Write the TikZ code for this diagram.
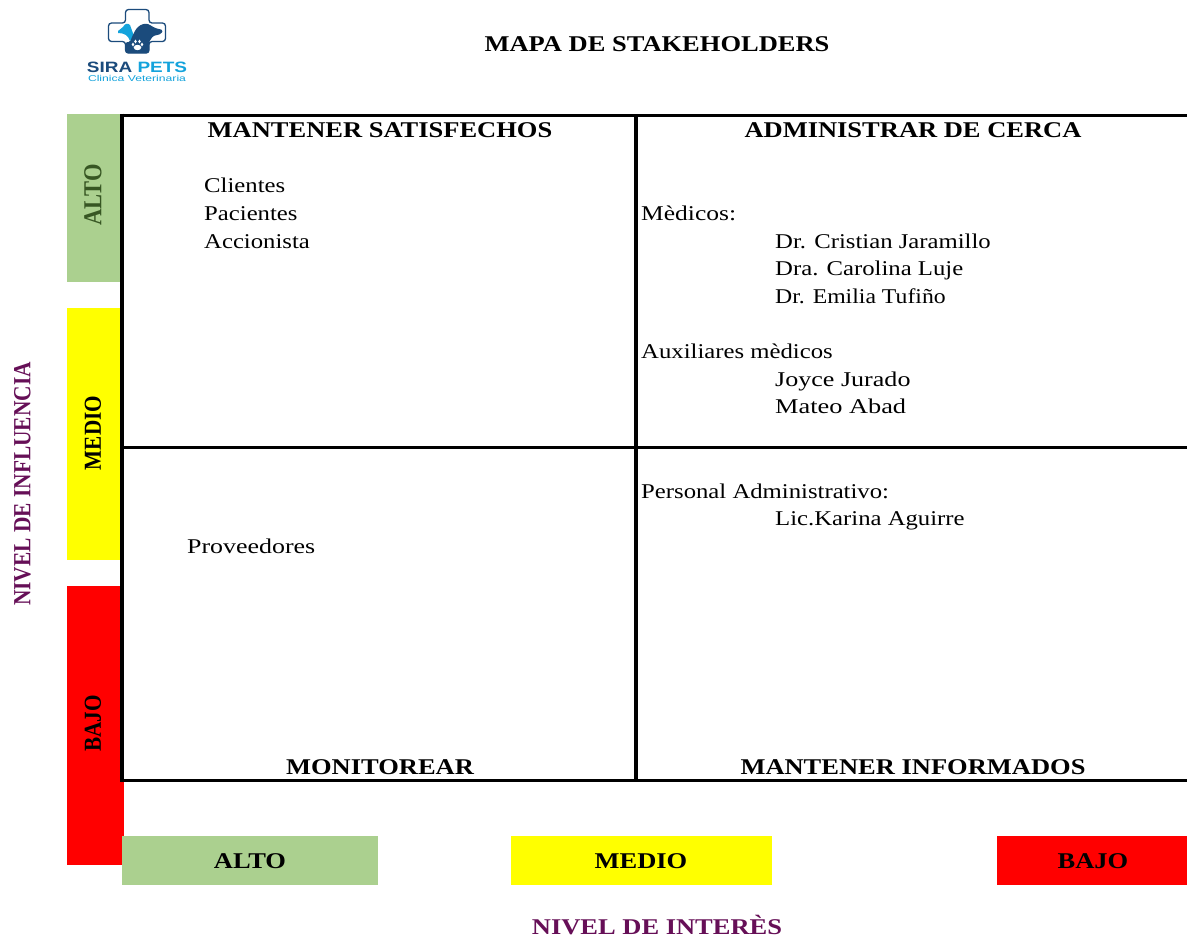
\documentclass[tikz,border=0pt]{standalone}
\usepackage{fontspec}
\setmainfont{Liberation Serif}
\setsansfont{Liberation Sans}
\usetikzlibrary{positioning}
\definecolor{verde}{HTML}{ABD08F}
\definecolor{verdeosc}{HTML}{375623}
\definecolor{morado}{HTML}{660F57}
\definecolor{azulosc}{HTML}{1B4B7C}
\definecolor{azulcla}{HTML}{14A3DC}
\definecolor{amarillo}{HTML}{FFFF00}
\definecolor{rojo}{HTML}{FF0000}
\newcommand{\ancho}[2][1.177]{\scalebox{#1}[1]{#2}}
\newcommand{\grueso}[1]{\scalebox{1}[1.15]{#1}}
\tikzset{
    titulo/.style={font=\fontsize{22.5}{25}\selectfont\bfseries, inner sep=0pt},
    nombre/.style={font=\fontsize{21}{24}\selectfont, inner sep=0pt, anchor=base west},
    lineah/.style={line width=3pt, black},
    lineav/.style={line width=3.8pt, black},
    rotulo/.style={font=\fontsize{21.2}{24}\selectfont\bfseries, inner sep=0pt, rotate=90},
    barra/.style={minimum height=49pt, inner sep=0pt},
}
\begin{document}
\begin{tikzpicture}[x=1pt,y=-1pt]
        \useasboundingbox (0,0) rectangle (1187,938);
        \fill[white] (0,0) rectangle (1187,938);

        % barras de influencia
        \fill[verde] (67,114) rectangle (124,282);
        \fill[amarillo] (67,308) rectangle (124,560);
        \fill[rojo] (67,586) rectangle (124,865);

        % barras de interes
        \node[barra, fill=verde, minimum width=256pt] (int_alto) at (250,860.5) {};
        \node[barra, fill=amarillo, minimum width=261pt] (int_medio) at (641.5,860.5) {};
        \node[barra, fill=rojo, minimum width=190pt] (int_bajo) at (1092,860.5) {};
        \node[titulo] at (250,861) {\ancho{ALTO}};
        \node[titulo] at (641,861) {\ancho{MEDIO}};
        \node[titulo] at (1093,861) {\ancho{BAJO}};

        % matriz
        \draw[lineah] (1187,115) -- (120,115);
        \draw[lineah] (1187,780) -- (120,780);
        \draw[lineah] (122,447) -- (1187,447);
        \draw[lineav] (122,113.5) -- (122,781.5);
        \draw[lineav] (636,115) -- (636,780);

        % titulos
        \node[titulo] (mapa) at (657,44) {\ancho{MAPA DE STAKEHOLDERS}};
        \node[titulo] (satisf) at (380,130.5) {\ancho{MANTENER SATISFECHOS}};
        \node[titulo] (cerca) at (913,130.5) {\ancho{ADMINISTRAR DE CERCA}};
        \node[titulo] (monit) at (380,767.5) {\ancho{MONITOREAR}};
        \node[titulo] (inform) at (913,767.5) {\ancho{MANTENER INFORMADOS}};
        \node[titulo, text=morado, anchor=base] (interes) at (657,934) {\ancho{NIVEL DE INTERÈS}};

        % rotulos verticales
        \node[rotulo, text=verdeosc, font=\fontsize{22.5}{24}\selectfont\bfseries] (inf_alto) at (93,195) {\grueso{ALTO}};
        \node[rotulo] (inf_medio) at (93,433) {\grueso{MEDIO}};
        \node[rotulo] (inf_bajo) at (93,723.5) {\grueso{BAJO}};
        \node[rotulo, text=morado, font=\fontsize{21.4}{24}\selectfont\bfseries] (influencia) at (22.5,484) {\grueso{NIVEL DE INFLUENCIA}};

        % nombres
        \node[nombre] at (204,192) {\ancho{Clientes}};
        \node[nombre] at (204,220) {\ancho{Pacientes}};
        \node[nombre] at (204,248) {\ancho{Accionista}};
        \node[nombre] at (641,220) {\ancho[1.215]{Mèdicos:}};
        \node[nombre] at (775,248) {\ancho{Dr. Cristian Jaramillo}};
        \node[nombre] at (775,275) {\ancho{Dra. Carolina Luje}};
        \node[nombre] at (775,303) {\ancho[1.13]{Dr. Emilia Tufiño}};
        \node[nombre] at (641,358) {\ancho{Auxiliares mèdicos}};
        \node[nombre] at (775,386) {\ancho[1.241]{Joyce Jurado}};
        \node[nombre] at (775,413) {\ancho[1.254]{Mateo Abad}};
        \node[nombre] at (641,498) {\ancho{Personal Administrativo:}};
        \node[nombre] at (775,525) {\ancho{Lic.Karina Aguirre}};
        \node[nombre] at (187,553) {\ancho[1.234]{Proveedores}};

        % logo
        \draw[azulosc, line width=1.3pt, rounded corners=3pt, fill=white]
            (125.5,9.5) -- (149,9.5) -- (149,23) -- (165.5,23) -- (165.5,41.5) -- (149,41.5) -- (149,53) -- (125.5,53) -- (125.5,41.5) -- (108.5,41.5) -- (108.5,23) -- (125.5,23) -- cycle;
        \fill[azulcla] (118,31) -- (123,27) .. controls (125,23) and (128,23) .. (130,25) -- (134,36) -- (130,41) .. controls (128,35) and (124,33) .. (118,33) -- cycle;
        \fill[azulosc, rounded corners=1.5pt] (125.5,53) -- (125.5,42) -- (130,42) .. controls (132,37) and (134,32) .. (137,28) .. controls (141,24) and (146,23) .. (150,25) -- (155,28) -- (163,30) -- (161,34) -- (153,36) -- (149,42) -- (149,53) -- cycle;
        \fill[white] (133,44.5) ellipse (1.3pt and 1.9pt) (135.5,41.5) ellipse (1.3pt and 1.9pt) (139.5,41.5) ellipse (1.3pt and 1.9pt) (142,44.5) ellipse (1.3pt and 1.9pt) (137.5,47.5) ellipse (3.8pt and 2.7pt);
        \node[inner sep=0pt, font=\fontsize{15}{17}\selectfont\sffamily\bfseries] (logo_txt) at (137,67.5) {\ancho[1.265]{\textcolor{azulosc}{SIRA} \textcolor{azulcla}{PETS}}};
        \node[inner sep=0pt, text=azulcla, font=\fontsize{8.5}{10}\selectfont\sffamily] (logo_sub) at (137,78.5) {\ancho[1.43]{Clinica Veterinaria}};
\end{tikzpicture}
\end{document}
